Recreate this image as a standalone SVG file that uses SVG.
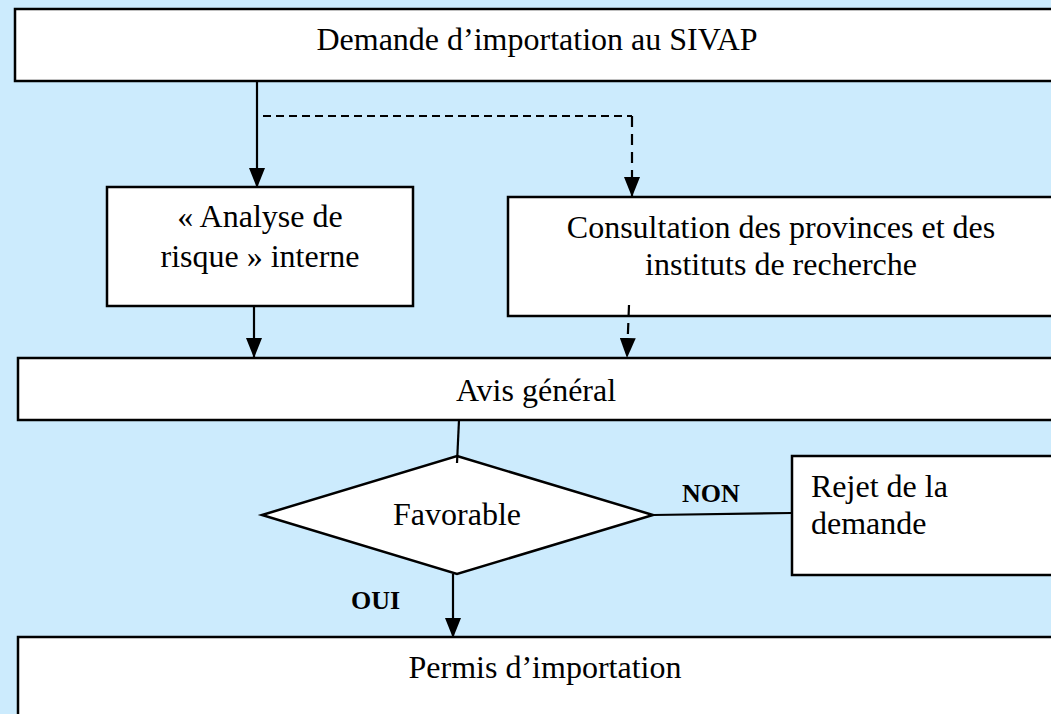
<svg xmlns="http://www.w3.org/2000/svg" width="1051" height="714" viewBox="0 0 1051 714">
<defs>
<style>
.bg{fill:#CCEBFD}
.box{fill:#FFFFFF;stroke:#000000;stroke-width:2.5}
.t{font-family:"Liberation Serif","Times New Roman",serif;font-size:32px;fill:#000000}
.c{text-anchor:middle}
.lbl{font-family:"Liberation Serif","Times New Roman",serif;font-size:26px;font-weight:bold;fill:#000000}
.ln{fill:none;stroke:#000000;stroke-width:2.2}
.dh{stroke-dasharray:8,5}
.dv{stroke-dasharray:11,7}
</style>
<marker id="arr" markerUnits="userSpaceOnUse" markerWidth="20" markerHeight="16" refX="20" refY="8" orient="auto">
<path d="M0,0 L20,8 L0,16 Z" fill="#000000"/>
</marker>
</defs>
<rect class="bg" x="0" y="0" width="1051" height="714"/>

<g id="node-demande">
<rect class="box" x="15" y="9" width="1100" height="72"/>
<text class="t c" x="537" y="50">Demande d’importation au SIVAP</text>
</g>

<g id="node-analyse">
<rect class="box" x="107" y="187" width="306" height="119"/>
<text class="t c" x="260" y="227">« Analyse de</text>
<text class="t c" x="260" y="267">risque » interne</text>
</g>

<g id="node-consultation">
<rect class="box" x="508" y="197" width="600" height="119"/>
<text class="t c" x="781" y="238">Consultation des provinces et des</text>
<text class="t c" x="781" y="275">instituts de recherche</text>
</g>

<g id="node-avis">
<rect class="box" x="18" y="358" width="1100" height="62"/>
<text class="t c" x="536" y="401">Avis général</text>
</g>

<g id="node-favorable">
<polygon class="box" points="457,456 653,515 457,574 262,515"/>
<text class="t c" x="457" y="525">Favorable</text>
</g>

<g id="node-rejet">
<rect class="box" x="792" y="456" width="320" height="119"/>
<text class="t" x="811" y="497">Rejet de la</text>
<text class="t" x="811" y="534">demande</text>
</g>

<g id="node-permis">
<rect class="box" x="18" y="637" width="1100" height="120"/>
<text class="t c" x="545" y="678">Permis d’importation</text>
</g>

<g id="connectors">
<path class="ln" d="M257,81 L257,188" marker-end="url(#arr)"/>
<path class="ln dh" d="M263,116 L632,116"/>
<path class="ln dv" d="M632,116 L632,197" marker-end="url(#arr)"/>
<path class="ln" d="M254,306 L254,358" marker-end="url(#arr)"/>
<path class="ln dv" d="M629,305 L627,358" marker-end="url(#arr)"/>
<path class="ln" d="M459,420 L457,463"/>
<path class="ln" d="M653,515 L792,513"/>
<path class="ln" d="M453,574 L453,638" marker-end="url(#arr)"/>
<text class="lbl" x="682" y="502">NON</text>
<text class="lbl" x="351" y="609">OUI</text>
</g>
</svg>
